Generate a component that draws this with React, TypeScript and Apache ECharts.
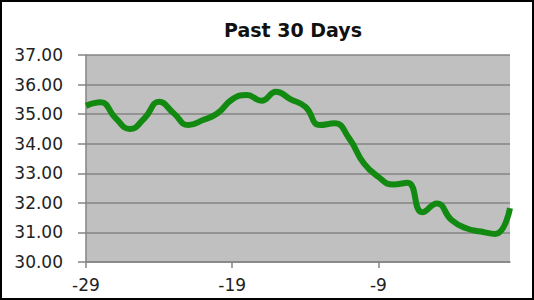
import React, { useEffect, useRef } from "react";
import * as echarts from "echarts";

const days = [
  -29, -28, -27, -26, -25, -24, -23, -22, -21, -20, -19, -18, -17, -16, -15,
  -14, -13, -12, -11, -10, -9, -8, -7, -6, -5, -4, -3, -2, -1, 0,
];
const prices = [
  35.28, 35.4, 34.88, 34.5, 34.86, 35.42, 35.03, 34.63, 34.8, 35.03, 35.5,
  35.65, 35.45, 35.76, 35.5, 35.25, 34.63, 34.69, 34.18, 33.34, 32.88, 32.62,
  32.68, 31.68, 31.98, 31.42, 31.14, 31.03, 30.95, 31.82,
];
const yMin = 30;
const yMax = 37;
const yStep = 1;
const titleText = "Past 30 Days";

export default function App() {
  const ref = useRef<HTMLDivElement>(null);
  useEffect(() => {
    if (!ref.current) return;
    const chart = echarts.init(ref.current, undefined, { renderer: "svg" });
    chart.setOption({
      animation: false,
      backgroundColor: "#ffffff",
      title: {
        text: titleText,
        left: 288,
        textAlign: "center",
        top: 15,
        textStyle: {
          fontFamily: "DejaVu Sans",
          fontWeight: "bold",
          fontSize: 19,
          color: "#111111",
        },
      },
      grid: {
        left: 86,
        right: 24,
        top: 55,
        bottom: 38,
        show: true,
        backgroundColor: "#c0c0c0",
        borderWidth: 0,
      },
      xAxis: {
        type: "category",
        data: days.map(String),
        boundaryGap: false,
        axisLine: { show: true, lineStyle: { color: "#858585", width: 1.5 } },
        axisTick: {
          show: true,
          interval: 9,
          length: 6,
          lineStyle: { color: "#858585", width: 1.5 },
        },
        axisLabel: {
          interval: 9,
          margin: 14,
          fontFamily: "DejaVu Sans",
          fontSize: 17,
          color: "#222222",
        },
        splitLine: { show: false },
      },
      yAxis: {
        type: "value",
        min: yMin,
        max: yMax,
        interval: yStep,
        axisLine: { show: true, lineStyle: { color: "#858585", width: 1.5 } },
        axisTick: {
          show: true,
          length: 8,
          lineStyle: { color: "#858585", width: 1.5 },
        },
        axisLabel: {
          margin: 23,
          formatter: (v: number) => v.toFixed(2),
          fontFamily: "DejaVu Sans",
          fontSize: 17,
          color: "#222222",
        },
        splitLine: { show: true, lineStyle: { color: "#858585", width: 1.5 } },
      },
      series: [
        {
          type: "line",
          data: prices,
          smooth: 0.5,
          symbol: "none",
          lineStyle: { color: "#128a12", width: 6 },
        },
      ],
      graphic: [
        {
          type: "rect",
          shape: { x: 1, y: 1, width: 532, height: 298 },
          style: { fill: "none", stroke: "#000000", lineWidth: 2 },
          z: 100,
        },
      ],
    });
    return () => chart.dispose();
  }, []);
  return (
    <div
      ref={ref}
      style={{ position: "absolute", left: 0, top: 0, width: 534, height: 300 }}
    />
  );
}
